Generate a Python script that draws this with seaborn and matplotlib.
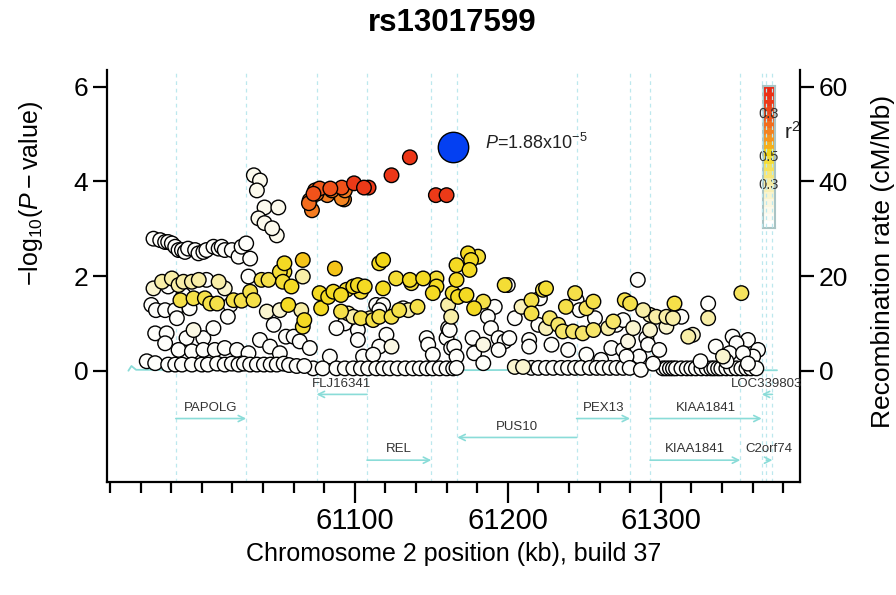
import numpy as np
import pandas as pd
import matplotlib
matplotlib.use("Agg")
import matplotlib.pyplot as plt
import seaborn as sns
from matplotlib.colors import LinearSegmentedColormap
from matplotlib.ticker import FixedLocator, MultipleLocator

# ---- data ----
lead_snp = "rs13017599"
lead_pos = 61164
lead_logp = 4.73
lead_label = r"$\mathit{P}$=1.88x10$^{-5}$"

# high LD SNPs (red / orange)
hi_pos = [61136, 61124, 61099.5, 61109, 61106, 61153, 61160, 61091.5, 61093, 61085, 61082,
          61077, 61074, 61070.5, 61072, 61070, 61073, 61075, 61084, 61093.5, 61091.5]
hi_logp = [4.51, 4.13, 3.96, 3.87, 3.87, 3.71, 3.71, 3.87, 3.62, 3.81, 3.71,
           3.85, 3.81, 3.60, 3.39, 3.54, 3.74, 3.74, 3.85, 3.81, 3.64]
hi_r2 = [0.92, 0.92, 0.9, 0.9, 0.9, 0.9, 0.9, 0.8, 0.68, 0.72, 0.7,
         0.78, 0.74, 0.7, 0.7, 0.74, 0.8, 0.72, 0.8, 0.7, 0.68]

# cream SNPs above the white band
cream_pos = [61034, 61038, 61036, 61041, 61050, 61037, 61041, 61049, 61046]
cream_logp = [4.13, 4.02, 3.81, 3.45, 3.45, 3.22, 3.12, 2.86, 3.01]
cream_r2 = [0.1] * 9

# yellow SNPs
yel_pos = [61054, 61054, 61066, 61058.6, 61056.5, 61067, 61066, 61087, 61077, 61078,
           61082.6, 61086, 61091, 61094.6, 61099, 61102, 61106.5, 61104, 61116, 61118.5,
           61118.5, 61127, 61136, 61137, 61144.7, 61153.4, 61153.4, 61151, 61166.5, 61166.5,
           61164, 61091, 61104, 61112, 61116, 61124, 61129, 61141, 61174, 61176,
           61180.6, 61175, 61167.5, 61173, 61178, 61184, 61198, 61215.5, 61223, 61225,
           61215.5, 61227.5, 61233, 61238, 61244, 61251.4, 61256, 61236, 61242.7, 61249,
           61256, 61276.5, 61269, 61280, 61309, 61352.7,
           60974, 60980.4, 60984.8, 60988, 60993.5, 60998, 61011, 60986, 60994.6, 61002,
           61005.5, 61010, 61020.7, 61026, 61031.6, 61033.8, 61039, 61043.6, 61051, 61053]
yel_logp = [2.27, 2.09, 2.34, 1.78, 1.39, 1.07, 0.93, 2.16, 1.64, 1.32,
            1.56, 1.67, 1.60, 1.71, 1.78, 1.81, 1.78, 1.67, 2.27, 2.34,
            1.74, 1.95, 1.92, 1.85, 1.95, 1.95, 1.78, 1.64, 2.23, 1.92,
            1.64, 1.25, 1.11, 1.07, 1.14, 1.14, 1.28, 1.35, 2.48, 2.34,
            2.41, 2.13, 1.56, 1.60, 1.32, 1.46, 1.81, 1.49, 1.71, 1.74,
            1.21, 1.11, 0.97, 1.35, 1.64, 1.32, 1.46, 0.83, 0.83, 0.79,
            0.86, 1.49, 1.04, 1.42, 1.42, 1.64,
            1.88, 1.95, 1.81, 1.88, 1.88, 1.92, 1.88, 1.49, 1.53, 1.53,
            1.42, 1.42, 1.49, 1.48, 1.67, 1.49, 1.92, 1.92, 2.09, 1.88]
yel_r2 = [0.5, 0.48, 0.55, 0.5, 0.5, 0.5, 0.48, 0.55, 0.5, 0.5,
          0.5, 0.5, 0.5, 0.48, 0.5, 0.5, 0.5, 0.48, 0.5, 0.52,
          0.5, 0.48, 0.5, 0.48, 0.5, 0.48, 0.5, 0.5, 0.5, 0.5,
          0.48, 0.45, 0.45, 0.45, 0.45, 0.45, 0.45, 0.45, 0.5, 0.5,
          0.48, 0.5, 0.5, 0.5, 0.5, 0.45, 0.48, 0.45, 0.45, 0.48,
          0.45, 0.4, 0.4, 0.45, 0.45, 0.42, 0.45, 0.4, 0.4, 0.4,
          0.4, 0.45, 0.4, 0.45, 0.45, 0.42,
          0.3, 0.3, 0.3, 0.3, 0.3, 0.3, 0.3, 0.45, 0.45, 0.45,
          0.45, 0.45, 0.45, 0.45, 0.45, 0.45, 0.45, 0.45, 0.48, 0.48]

# pale yellow SNPs
pale_pos = [60968.4, 61015, 61066, 61065, 61095.6, 61099, 61110, 61135, 61161, 61163,
            61042.5, 61051, 60994.6, 61124, 61225, 61265.6, 61209, 61288.5, 61293, 61297,
            61303.7, 61308, 61303.7, 61293, 61282, 61318, 61321, 61331, 61278.6, 61340.7,
            61184, 61204.6, 61210]
pale_logp = [1.74, 1.74, 1.99, 1.28, 1.21, 1.14, 1.11, 1.28, 1.39, 1.14,
             1.25, 1.28, 0.86, 0.51, 0.90, 0.90, 1.35, 1.28, 1.18, 1.14,
             1.14, 1.11, 0.93, 0.86, 0.90, 0.72, 0.76, 1.11, 0.62, 0.30,
             0.55, 0.08, 0.08]
pale_r2 = [0.2, 0.2, 0.3, 0.3, 0.3, 0.3, 0.3, 0.3, 0.3, 0.3,
           0.2, 0.2, 0.15, 0.15, 0.25, 0.3, 0.25, 0.3, 0.25, 0.3,
           0.3, 0.3, 0.2, 0.2, 0.2, 0.3, 0.2, 0.3, 0.15, 0.2,
           0.15, 0.2, 0.2]

# white (r2 ~ 0) SNPs
low_pos = [60968.4, 60972.8, 60976, 60978, 60980.4, 60982.6, 60984.8, 60987, 60989, 60991,
           60995.6, 60997.8, 61001, 61003, 61007.6, 61011, 61013, 61015, 61019.6, 61024,
           61026, 61029, 61031.6,
           60988, 61018.6, 61030.5, 61003, 60978, 60967, 60970, 60976, 60982.6, 60983.7,
           60992, 61017, 61047, 60969.5, 60977, 60976, 60990, 61001, 61007.6,
           60984.8, 60993.5, 61001, 61008.5, 61015, 61023, 61030.5, 61038, 61044.6, 61051,
           60964, 60969.5, 60978, 60982.6, 60987, 60993.5, 61000, 61004, 61010, 61015,
           61019.6, 61024, 61027.5, 61031.6, 61036, 61040.6, 61045, 61049, 61053.5,
           61093.5, 61088, 61102, 61102, 61114, 61118.5, 61116, 61131.6, 61120.7, 61116,
           61147, 61148, 61151, 61160, 61163, 61161, 61055, 61060, 61064, 61070.6,
           61083.7, 61105.4, 61112,
           61072.8, 61079, 61088, 61093.5, 61099, 61104, 61108.7, 61114, 61118.5, 61123,
           61128, 61133, 61138, 61142.5, 61147, 61151, 61155.5, 61160, 61164.3,
           61057, 61062, 61067,
           61200, 61191.5, 61187, 61204.6, 61221, 61220, 61245, 61247, 61257, 61271,
           61275.4, 61162, 61165, 61166.5, 61177, 61178, 61184, 61189, 61194, 61198,
           61201, 61194, 61214, 61214, 61228.6, 61239.5, 61251.4, 61261, 61267.7, 61275.4,
           61166.5,
           61215.5, 61220, 61225, 61229.7, 61235, 61239.4, 61244, 61248, 61253.6, 61258,
           61262, 61266.7, 61271, 61275.4,
           61285, 61313.5, 61331, 61290.6, 61291.7, 61299, 61286, 61277.6, 61336, 61347,
           61357, 61349.5, 61363.6, 61360.4, 61345, 61353.8, 61279.7, 61287,
           61301.5, 61303.7, 61306, 61308, 61310, 61313.5, 61317, 61320, 61323, 61326.6,
           61330, 61333, 61335, 61337.5, 61339.6, 61342.9, 61346, 61349.5, 61352.7, 61356,
           61359, 61362.5, 61295, 61326, 61343, 61357]
low_logp = [2.79, 2.76, 2.72, 2.72, 2.69, 2.62, 2.55, 2.55, 2.51, 2.58,
            2.55, 2.48, 2.51, 2.55, 2.62, 2.58, 2.62, 2.55, 2.55, 2.41,
            2.62, 2.69, 2.37,
            1.60, 1.39, 1.99, 1.92, 1.78, 1.39, 1.28, 1.28, 1.28, 1.11,
            1.32, 1.14, 0.97, 0.79, 0.79, 0.58, 0.69, 0.69, 0.90,
            0.44, 0.41, 0.44, 0.44, 0.48, 0.44, 0.37, 0.65, 0.51, 0.37,
            0.20, 0.16, 0.13, 0.13, 0.13, 0.13, 0.13, 0.13, 0.15, 0.13,
            0.15, 0.13, 0.15, 0.13, 0.13, 0.13, 0.13, 0.13, 0.15,
            1.00, 0.90, 0.86, 0.65, 1.39, 1.39, 1.28, 1.32, 0.76, 0.51,
            0.69, 0.55, 0.34, 0.69, 0.48, 0.90, 0.72, 0.72, 0.62, 0.48,
            0.30, 0.30, 0.34,
            0.05, 0.05, 0.05, 0.05, 0.05, 0.05, 0.05, 0.05, 0.05, 0.05,
            0.05, 0.05, 0.05, 0.05, 0.05, 0.05, 0.05, 0.05, 0.05,
            0.12, 0.10, 0.10,
            1.81, 1.35, 1.14, 1.11, 1.53, 0.97, 1.49, 1.28, 1.11, 0.97,
            1.07, 0.86, 0.51, 0.30, 0.69, 0.37, 0.16, 0.90, 0.69, 0.62,
            0.69, 0.44, 0.65, 0.51, 0.55, 0.44, 0.34, 0.23, 0.48, 0.44,
            0.06,
            0.06, 0.06, 0.06, 0.06, 0.06, 0.06, 0.06, 0.06, 0.06, 0.06,
            0.06, 0.06, 0.06, 0.06,
            1.92, 1.14, 1.42, 0.69, 0.55, 0.44, 0.30, 0.30, 0.51, 0.72,
            0.65, 0.58, 0.44, 0.30, 0.37, 0.37, 0.06, 0.02,
            0.05, 0.05, 0.05, 0.05, 0.05, 0.05, 0.05, 0.05, 0.05, 0.05,
            0.05, 0.05, 0.05, 0.05, 0.05, 0.05, 0.05, 0.05, 0.05, 0.05,
            0.05, 0.05, 0.15, 0.20, 0.20, 0.15]
low_r2 = [0.02] * len(low_pos)

# genes: name, start, end, strand, row
gene_names = ["PAPOLG", "FLJ16341", "REL", "PUS10", "PEX13", "KIAA1841", "KIAA1841",
              "LOC339803", "C2orf74"]
gene_start = [60983, 61075, 61108, 61167, 61245, 61293, 61293, 61366, 61369]
gene_end = [61029, 61108, 61150, 61245, 61280, 61366, 61352, 61373, 61373]
gene_strand = ["+", "-", "+", "-", "+", "+", "+", "-", "+"]
gene_row = [2, 1, 4, 3, 2, 2, 4, 1, 4]

# recombination rate (cM/Mb)
recomb_pos = [60952, 60954, 60957, 61050, 61150, 61250, 61300, 61376]
recomb_rate = [0.0, 1.0, 0.2, 0.1, 0.1, 0.2, 0.1, 0.1]

# ---- style ----
sns.set_theme(style="white")
plt.rcParams["font.family"] = ["Liberation Sans", "DejaVu Sans"]
plt.rcParams["mathtext.fontset"] = "custom"
plt.rcParams["mathtext.rm"] = "Liberation Sans"
plt.rcParams["mathtext.it"] = "Liberation Sans:italic"
plt.rcParams["mathtext.bf"] = "Liberation Sans:bold"
for k in ("text.color", "axes.labelcolor", "xtick.color", "ytick.color"):
    plt.rcParams[k] = "black"

ld_cmap = LinearSegmentedColormap.from_list("ld", [
    (0.0, "#FFFFFF"), (0.15, "#FBF8E4"), (0.3, "#F8EEA6"), (0.45, "#F5E04A"),
    (0.52, "#F3D816"), (0.6, "#F6A21E"), (0.7, "#F47E20"), (0.8, "#F1521A"),
    (0.9, "#EC3A18"), (1.0, "#EA2814")])

df = pd.concat([
    pd.DataFrame({"pos": low_pos, "logp": low_logp, "r2": low_r2}),
    pd.DataFrame({"pos": pale_pos, "logp": pale_logp, "r2": pale_r2}),
    pd.DataFrame({"pos": cream_pos, "logp": cream_logp, "r2": cream_r2}),
    pd.DataFrame({"pos": yel_pos, "logp": yel_logp, "r2": yel_r2}),
    pd.DataFrame({"pos": hi_pos, "logp": hi_logp, "r2": hi_r2}),
], ignore_index=True)
df = df.sort_values("r2", kind="stable")

fig = plt.figure(figsize=(8.96, 5.95), dpi=100)
ax = fig.add_axes([0.1194, 0.190, 0.7734, 0.692])
ax2 = ax.twinx()
ax.set_zorder(ax2.get_zorder() + 1)
ax.patch.set_visible(False)

xlim = (60938, 61391)
ylim = (-2.35, 6.35)
ax.set_xlim(xlim)
ax.set_ylim(ylim)
ax2.set_ylim(ylim[0] * 10, ylim[1] * 10)

line_col = "#8ADCD8"
vline_col = "#BDE8EE"

# gene boundary guide lines
for b in sorted(set(gene_start + gene_end)):
    ax.axvline(b, color=vline_col, lw=0.9, ls=(0, (3, 3)), zorder=0)

# recombination rate
ax2.plot(recomb_pos, recomb_rate, color=line_col, lw=1.3)

# gene arrows
row_y = {1: -0.5, 2: -1.01, 3: -1.41, 4: -1.89}
for name, s, e, strand, row in zip(gene_names, gene_start, gene_end, gene_strand, gene_row):
    y = row_y[row]
    tail, head = (s, e) if strand == "+" else (e, s)
    ax.annotate("", xy=(head, y), xytext=(tail, y),
                arrowprops=dict(arrowstyle="->", color=line_col, lw=1.2,
                                shrinkA=0, shrinkB=0, mutation_scale=11))
    ax.text((s + e) / 2, y + 0.23, name, ha="center", va="center",
            fontsize=9.5, color="#333333")

# SNPs
sns.scatterplot(data=df, x="pos", y="logp", hue="r2", palette=ld_cmap,
                hue_norm=(0, 1), s=110, edgecolor="black", linewidth=1.0,
                legend=False, ax=ax, zorder=3)
ax.scatter([lead_pos], [lead_logp], s=480, color="#0440F2", edgecolor="black",
           linewidth=1.0, zorder=5)
ax.text(lead_pos + 21, lead_logp + 0.08, lead_label, fontsize=13, color="#222222",
        ha="left", va="center")

# axes styling
for a in (ax, ax2):
    for side in ("left", "right", "bottom"):
        a.spines[side].set_visible(True)
        a.spines[side].set_linewidth(1.6)
        a.spines[side].set_color("black")
    a.spines["top"].set_visible(False)
ax.spines["right"].set_visible(False)
ax2.spines["left"].set_visible(False)
ax2.spines["bottom"].set_visible(False)

ax.set_yticks([0, 2, 4, 6])
ax2.set_yticks([0, 20, 40, 60])
ax.xaxis.set_major_locator(FixedLocator([61100, 61200, 61300]))
ax.xaxis.set_minor_locator(MultipleLocator(20))
ax.tick_params(axis="x", which="major", length=15, width=1.6, labelsize=21, pad=3,
               bottom=True, direction="out")
ax.tick_params(axis="x", which="minor", length=8, width=1.6, bottom=True, direction="out")
ax.tick_params(axis="y", length=10, width=1.6, labelsize=19, left=True, direction="out")
ax2.tick_params(axis="y", length=10, width=1.6, labelsize=19, right=True, direction="out")
ax.grid(False)
ax2.grid(False)

ax.set_xlabel("Chromosome 2 position (kb), build 37", fontsize=18)
ax.xaxis.set_label_coords(0.5, -0.145)
ax.set_ylabel(r"$-\mathrm{log}_{10}(\mathit{P}-\mathrm{value})$", fontsize=18)
ax.yaxis.set_label_coords(-0.09, 0.70)
ax2.set_ylabel("Recombination rate (cM/Mb)", fontsize=19)
ax2.yaxis.set_label_coords(1.102, 0.535)
fig.text(0.505, 0.962, lead_snp, ha="center", va="center", fontsize=22.5,
         fontweight="bold")

# r2 colour key
cax = fig.add_axes([0.8516, 0.6168, 0.0134, 0.2387])
key = np.linspace(1, 0, 20).reshape(-1, 1)
cax.imshow(key, cmap=ld_cmap, vmin=0, vmax=1, aspect="auto", extent=(0, 1, 0, 1))
cax.set_xticks([])
cax.set_yticks([])
for sp in cax.spines.values():
    sp.set_color("#A9C4C4")
    sp.set_linewidth(1.5)
for v in (0.8, 0.5, 0.3):
    cax.text(0.5, v, f"{v}", transform=cax.transAxes, ha="center", va="center",
             fontsize=10.5, color="#333333")
cax.text(2.4, 0.68, r"r$^2$", transform=cax.transAxes, ha="center", va="center",
         fontsize=15, color="#222222")

fig.savefig("out.png", dpi=100)
